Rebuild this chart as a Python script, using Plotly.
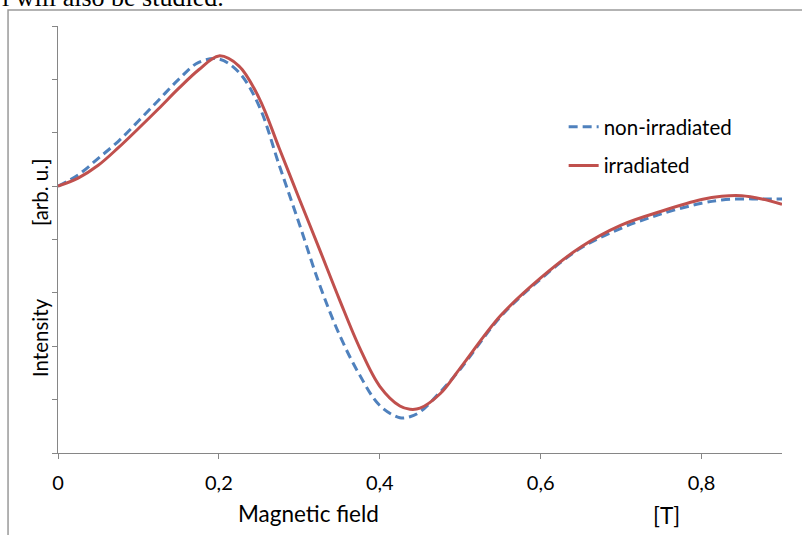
import plotly.graph_objects as go

# magnetic field [T]
field = [0, 0.025, 0.05, 0.075, 0.1, 0.125, 0.15, 0.175, 0.2, 0.225, 0.25,
         0.275, 0.3, 0.325, 0.35, 0.375, 0.4, 0.425, 0.4375, 0.45, 0.475, 0.5,
         0.55, 0.6, 0.65, 0.7, 0.75, 0.8, 0.825, 0.85, 0.875, 0.9]

# intensity [arb. u.]
non_irradiated = [5.00, 5.21, 5.52, 5.84, 6.22, 6.61, 7.00, 7.32, 7.38, 7.13, 6.50,
                  5.39, 4.29, 3.16, 2.21, 1.46, 0.89, 0.66, 0.68, 0.77, 1.14, 1.57,
                  2.55, 3.26, 3.84, 4.21, 4.48, 4.68, 4.74, 4.76, 4.76, 4.76]
irradiated = [5.00, 5.15, 5.39, 5.72, 6.08, 6.45, 6.83, 7.18, 7.44, 7.25, 6.65,
              5.71, 4.76, 3.82, 2.87, 1.97, 1.25, 0.88, 0.82, 0.84, 1.11, 1.59,
              2.57, 3.28, 3.86, 4.27, 4.53, 4.75, 4.81, 4.82, 4.76, 4.66]

xticks = [0, 0.2, 0.4, 0.6, 0.8]
yticks = [0, 1, 2, 3, 4, 5, 6, 7, 8]

font = "Lato"
axcol = "#868686"

fig = go.Figure()
fig.add_trace(go.Scatter(x=field, y=non_irradiated, name="non-irradiated", mode="lines",
                         legendgroup="a",
                         line=dict(color="#4F81BD", width=3, dash="9px,5px", shape="spline", smoothing=1.0)))
fig.add_trace(go.Scatter(x=field, y=irradiated, name="irradiated", mode="lines",
                         legendgroup="b",
                         line=dict(color="#C0504D", width=3, shape="spline", smoothing=1.0)))

fig.update_xaxes(range=[0, 0.9], tickvals=xticks, ticks="outside", ticklen=5, tickcolor=axcol,
                 showline=True, linecolor=axcol, linewidth=1, showgrid=False, zeroline=False,
                 tickfont=dict(family=font, size=20, color="black"), ticklabelstandoff=7)
fig.update_yaxes(range=[0, 8], tickvals=yticks, ticks="outside", ticklen=5, tickcolor=axcol,
                 showline=True, linecolor=axcol, linewidth=1, showgrid=False, zeroline=False,
                 showticklabels=False)

ann = dict(xref="paper", yref="paper", showarrow=False, xanchor="center", yanchor="middle")
fig.add_annotation(text="Magnetic field", x=(309 - 58) / 724.5, y=(453 - 513) / 427,
                   font=dict(family=font, size=22.5, color="black"), **ann)
fig.add_annotation(text="[T]", x=(667 - 58) / 724.5, y=(453 - 515) / 427,
                   font=dict(family=font, size=22.5, color="black"), **ann)
fig.add_annotation(text="Intensity", x=(40 - 58) / 724.5, y=(453 - 338) / 427, textangle=-90,
                   font=dict(family=font, size=20.5, color="black"), **ann)
fig.add_annotation(text="[arb. u.]", x=(40 - 58) / 724.5, y=(453 - 193) / 427, textangle=-90,
                   font=dict(family=font, size=20.5, color="black"), **ann)
# cropped text line of the surrounding document
fig.add_annotation(text="l will also be studied.", x=-58 / 724.5, y=(453 - 14) / 427,
                   xanchor="left", yanchor="bottom", xref="paper", yref="paper", showarrow=False,
                   font=dict(family="Liberation Serif", size=26, color="black"))

# outer chart frame (cut at right and bottom)
fig.add_shape(type="rect", xref="paper", yref="paper", x0=(8 - 58) / 724.5, x1=(830 - 58) / 724.5,
              y0=(453 - 560) / 427, y1=(453 - 10) / 427, layer="below",
              line=dict(color="#9a9a9a", width=1.5), fillcolor="rgba(0,0,0,0)")

fig.update_layout(width=802, height=535, margin=dict(l=58, r=19.5, t=26, b=82),
                  plot_bgcolor="rgba(0,0,0,0)", paper_bgcolor="white", separators=", ",
                  legend=dict(x=(564 - 58) / 724.5, y=(453 - 107) / 427, xanchor="left", yanchor="top",
                              font=dict(family=font, size=20.5, color="black"), tracegroupgap=9,
                              bgcolor="rgba(0,0,0,0)"))

fig.write_html("out.html", config={"displayModeBar": False},
               post_script="document.body.style.margin='0px';")
